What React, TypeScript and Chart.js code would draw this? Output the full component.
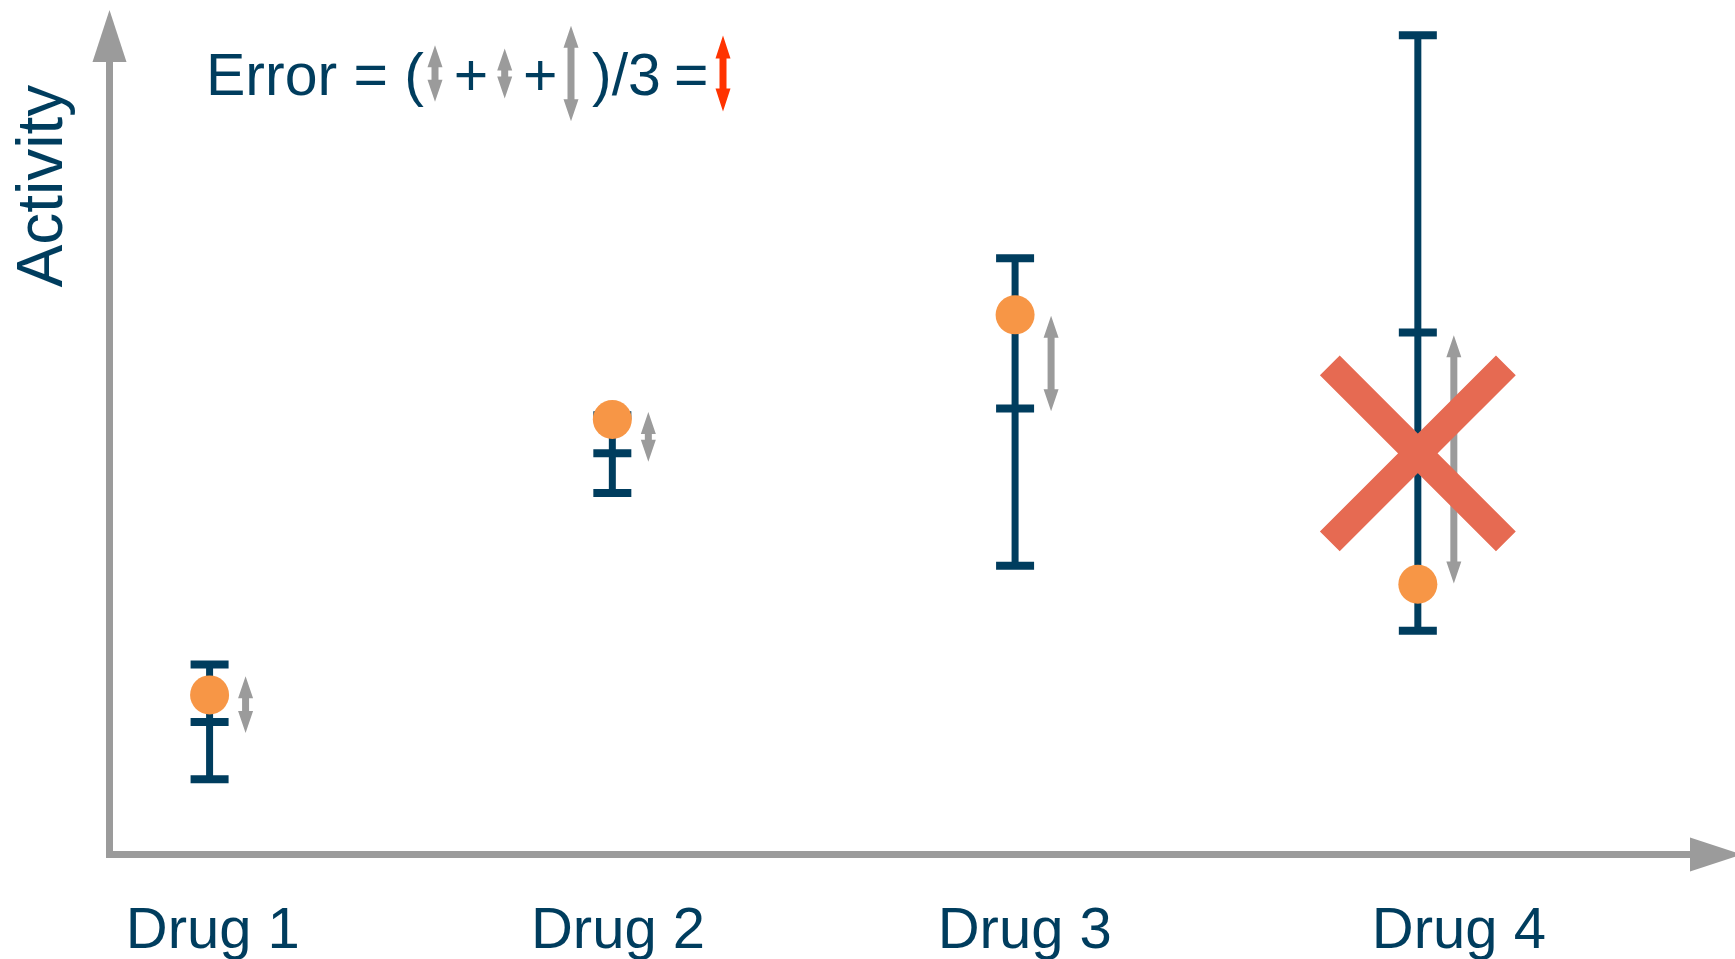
import { useEffect, useRef } from 'react';
import { Chart, registerables } from 'chart.js';

Chart.register(...registerables);

// ---- data ----
const drugs = ['Drug 1', 'Drug 2', 'Drug 3', 'Drug 4'];
const drugX = [1, 2, 3, 4];
const labelX = [1.008, 2.014, 3.024, 4.102];
const replicateHigh = [22.5, 52.0, 70.6, 97.0];
const replicateMid = [15.7, 47.5, 52.8, 61.8];
const replicateLow = [8.9, 42.8, 34.2, 26.5];
const meanActivity = [18.9, 51.5, 63.9, 32.0];
const errorTop = [21.1, 52.4, 63.8, 61.5];
const errorBottom = [14.4, 46.5, 52.5, 32.1];
const rejectedY: (number | null)[] = [null, null, null, 47.5];
const xMin = 0.7515;
const xMax = 4.7875;
const yMin = 0;
const yMax = 100;

// ---- styles ----
const NAVY = '#003D5E';
const ORANGE = '#F79646';
const RED_X = '#E66A52';
const RED_ARROW = '#FF3300';
const GRAY = '#9B9B9B';
const FONT = '"Liberation Sans", Arial, sans-serif';

function doubleArrow(ctx: CanvasRenderingContext2D, x: number, yTop: number, yBot: number, color: string, shaftW = 7, headW = 15, headL = 22) {
  const hl = Math.min(headL, (yBot - yTop) / 2);
  ctx.save();
  ctx.fillStyle = color;
  ctx.beginPath();
  ctx.moveTo(x, yTop);
  ctx.lineTo(x + headW / 2, yTop + hl);
  ctx.lineTo(x + shaftW / 2, yTop + hl);
  ctx.lineTo(x + shaftW / 2, yBot - hl);
  ctx.lineTo(x + headW / 2, yBot - hl);
  ctx.lineTo(x, yBot);
  ctx.lineTo(x - headW / 2, yBot - hl);
  ctx.lineTo(x - shaftW / 2, yBot - hl);
  ctx.lineTo(x - shaftW / 2, yTop + hl);
  ctx.lineTo(x - headW / 2, yTop + hl);
  ctx.closePath();
  ctx.fill();
  ctx.restore();
}

const axesPlugin = {
  id: 'arrowAxes',
  beforeDatasetsDraw(chart: any) {
    const { ctx, chartArea } = chart;
    const { left, bottom, top, right } = chartArea;
    ctx.save();
    ctx.strokeStyle = GRAY;
    ctx.fillStyle = GRAY;
    ctx.lineWidth = 7;
    ctx.lineCap = 'butt';
    // y axis
    ctx.beginPath();
    ctx.moveTo(left, bottom + 3.5);
    ctx.lineTo(left, top + 50);
    ctx.stroke();
    ctx.beginPath();
    ctx.moveTo(left, top);
    ctx.lineTo(left + 17, top + 52);
    ctx.lineTo(left - 17, top + 52);
    ctx.closePath();
    ctx.fill();
    // x axis
    ctx.beginPath();
    ctx.moveTo(left - 3.5, bottom);
    ctx.lineTo(right - 40, bottom);
    ctx.stroke();
    ctx.beginPath();
    ctx.moveTo(right + 7, bottom);
    ctx.lineTo(right - 45, bottom - 17);
    ctx.lineTo(right - 45, bottom + 17);
    ctx.closePath();
    ctx.fill();
    ctx.restore();
  },
};

const errorBarsPlugin = {
  id: 'replicateBars',
  beforeDatasetsDraw(chart: any) {
    const { ctx } = chart;
    const xs = chart.scales.x;
    const ys = chart.scales.y;
    ctx.save();
    ctx.strokeStyle = NAVY;
    ctx.lineCap = 'butt';
    drugX.forEach((xv, i) => {
      const x = xs.getPixelForValue(xv);
      const yH = ys.getPixelForValue(replicateHigh[i]);
      const yM = ys.getPixelForValue(replicateMid[i]);
      const yL = ys.getPixelForValue(replicateLow[i]);
      ctx.lineWidth = 7;
      ctx.beginPath();
      ctx.moveTo(x, yL);
      ctx.lineTo(x, yH);
      ctx.stroke();
      ctx.lineWidth = 8;
      [yH, yM, yL].forEach((y) => {
        ctx.beginPath();
        ctx.moveTo(x - 19, y);
        ctx.lineTo(x + 19, y);
        ctx.stroke();
      });
      // gray error arrow beside the bar
      const yT = ys.getPixelForValue(errorTop[i]);
      const yB = ys.getPixelForValue(errorBottom[i]);
      doubleArrow(ctx, x + 36, yT, yB, GRAY);
    });
    ctx.restore();
  },
};

const annotationPlugin = {
  id: 'formulaAndTitle',
  afterDraw(chart: any) {
    const { ctx, chartArea } = chart;
    const ys = chart.scales.y;
    ctx.save();
    // y axis title
    ctx.fillStyle = NAVY;
    ctx.font = `64px ${FONT}`;
    ctx.textAlign = 'center';
    ctx.textBaseline = 'alphabetic';
    ctx.translate(chartArea.left - 47.5, 186);
    ctx.rotate(-Math.PI / 2);
    ctx.fillText('Activity', 0, 0);
    ctx.restore();

    // formula
    ctx.save();
    ctx.fillStyle = NAVY;
    ctx.font = `59px ${FONT}`;
    ctx.textAlign = 'left';
    ctx.textBaseline = 'alphabetic';
    const base = 95;
    const mid = 73.5;
    ctx.fillText('Error = (', 206, base);
    ctx.fillText('+', 453.8, base);
    ctx.fillText('+', 523.1, base);
    ctx.fillText(')/3', 592, base);
    ctx.fillText('=', 674, base);
    const arrowXs = [435, 504.7, 571];
    arrowXs.forEach((ax, i) => {
      const len = ys.getPixelForValue(errorBottom[i]) - ys.getPixelForValue(errorTop[i]);
      doubleArrow(ctx, ax, mid - len / 2, mid + len / 2, GRAY);
    });
    doubleArrow(ctx, 723, mid - 38, mid + 38, RED_ARROW, 7, 15, 23);
    ctx.restore();
  },
};

export default function App() {
  const ref = useRef<HTMLCanvasElement | null>(null);
  useEffect(() => {
    if (!ref.current) return;
    const chart = new Chart(ref.current, {
      type: 'scatter',
      data: {
        datasets: [
          {
            label: 'Rejected',
            data: drugX
              .map((x, i) => ({ x, y: rejectedY[i] }))
              .filter((p) => p.y !== null) as any,
            pointStyle: 'crossRot',
            pointRadius: 124.5,
            pointHoverRadius: 124.5,
            borderWidth: 28,
            pointBorderWidth: 28,
            borderColor: RED_X,
            backgroundColor: RED_X,
            clip: false,
          } as any,
          {
            label: 'Mean activity',
            data: drugX.map((x, i) => ({ x, y: meanActivity[i] })),
            pointRadius: 19.5,
            pointHoverRadius: 19.5,
            borderWidth: 0,
            pointBorderWidth: 0,
            backgroundColor: ORANGE,
            borderColor: ORANGE,
            clip: false,
          } as any,
        ],
      },
      options: {
        animation: false,
        responsive: false,
        events: [],
        layout: { autoPadding: false, padding: { left: 109.5, top: 10, right: 0, bottom: 0 } },
        plugins: { legend: { display: false }, tooltip: { enabled: false } },
        scales: {
          x: {
            type: 'linear',
            min: xMin,
            max: xMax,
            grid: { display: false, drawTicks: false },
            border: { display: false },
            ticks: {
              autoSkip: false,
              maxRotation: 0,
              minRotation: 0,
              padding: 42.9,
              color: NAVY,
              font: { family: FONT, size: 58 },
              callback: (_v: any, i: number) => drugs[i],
            },
            afterBuildTicks: (s: any) => {
              s.ticks = labelX.map((v) => ({ value: v }));
            },
            afterFit: (s: any) => {
              s.height = 104.5;
            },
          },
          y: {
            type: 'linear',
            display: false,
            min: yMin,
            max: yMax,
          },
        },
      },
      plugins: [axesPlugin, errorBarsPlugin, annotationPlugin],
    } as any);
    return () => chart.destroy();
  }, []);
  return (
    <div style={{ position: 'absolute', left: 0, top: 0, width: 1735, height: 959, background: '#fff' }}>
      <canvas ref={ref} width={1735} height={959} style={{ display: 'block' }} />
    </div>
  );
}
